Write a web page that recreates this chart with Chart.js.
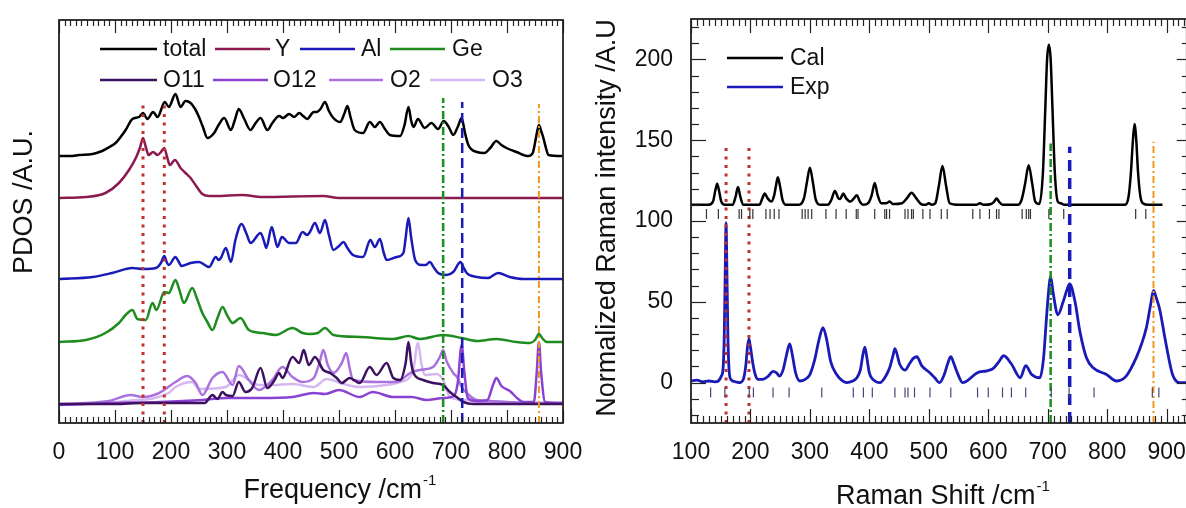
<!DOCTYPE html>
<html>
<head>
<meta charset="utf-8">
<script src="https://cdn.jsdelivr.net/npm/chart.js@4"></script>
<style>
  html, body { margin: 0; padding: 0; background: #fff; overflow: hidden; }
  #left { position: absolute; left: 0; top: 0; }
  #right { position: absolute; left: 593px; top: 0; }
</style>
</head>
<body>
<canvas id="left" width="593" height="508"></canvas>
<canvas id="right" width="600" height="508"></canvas>
<script>
// ---- left panel: PDOS curves, [frequency, offset intensity] ----
const total = [[0,267],[20,267],[36,268],[60,269],[77,272],[90,276],[101,280],[110,286],[119,293],[131,304],[143,306],[150,310],[158,304],[168,311],[176,306],[189,321],[196,316],[208,329],[217,316],[226,322],[235,320],[243,314],[250,306],[257,296],[265,285],[277,290],[285,298],[295,305],[307,293],[314,303],[321,314],[330,305],[342,293],[350,299],[360,305],[372,293],[381,300],[393,307],[400,305],[411,309],[420,306],[429,310],[436,307],[443,304],[455,311],[460,311],[467,314],[475,321],[482,312],[490,305],[502,301],[510,310],[515,317],[521,305],[528,293],[543,290],[555,301],[564,296],[573,301],[582,294],[591,288],[609,287],[617,298],[624,316],[629,302],[633,296],[641,304],[653,295],[665,300],[677,294],[687,302],[696,296],[704,288],[712,296],[719,305],[725,290],[731,278],[746,271],[760,270],[770,275],[781,282],[790,278],[799,275],[817,271],[838,267],[846,270],[850,280],[854,292],[857,298],[861,292],[865,285],[870,274],[874,268],[900,267]];
const pdosY = [[0,225],[48,226],[83,230],[107,240],[125,253],[138,266],[145,276],[150,285],[155,276],[160,268],[168,271],[176,268],[182,271],[188,275],[193,266],[198,258],[207,263],[217,255],[226,250],[235,245],[245,237],[256,229],[268,227],[280,227],[327,228],[363,226],[472,227],[500,225],[900,225]];
const pdosAl = [[0,144],[60,146],[95,150],[131,155],[150,154],[173,155],[182,160],[188,167],[193,160],[196,158],[208,166],[213,162],[219,157],[235,160],[250,161],[268,156],[280,166],[285,163],[289,165],[298,175],[307,161],[315,183],[326,199],[335,189],[342,180],[360,190],[366,182],[370,175],[380,196],[385,186],[390,176],[398,186],[411,180],[423,180],[435,191],[443,188],[448,191],[457,200],[466,190],[475,203],[482,188],[490,173],[500,177],[508,181],[515,175],[525,168],[543,166],[556,183],[564,176],[573,184],[580,170],[585,163],[603,166],[615,170],[619,185],[624,205],[629,185],[636,163],[647,158],[655,158],[662,161],[670,155],[677,150],[692,148],[704,151],[717,161],[722,156],[728,150],[746,146],[766,145],[784,150],[805,146],[829,144],[900,144]];
const pdosGe = [[0,81],[48,83],[83,90],[107,100],[119,108],[131,113],[140,104],[155,103],[167,120],[174,113],[188,131],[196,130],[208,143],[215,133],[223,120],[238,135],[246,125],[256,110],[265,101],[274,93],[283,105],[292,116],[300,108],[310,100],[324,105],[339,93],[363,90],[387,88],[417,95],[435,90],[448,89],[462,90],[475,95],[490,88],[537,86],[597,84],[624,87],[644,84],[686,88],[719,85],[746,82],[781,84],[817,81],[841,80],[850,83],[857,89],[864,84],[871,81],[900,81]];
const pdosO11 = [[0,19],[100,19],[150,20],[200,20],[260,20],[274,28],[283,24],[292,31],[298,28],[310,27],[321,41],[333,31],[345,35],[360,55],[372,35],[384,42],[393,50],[399,45],[417,66],[429,60],[437,73],[446,58],[457,66],[472,53],[484,50],[496,45],[505,40],[519,45],[537,40],[555,56],[567,48],[585,60],[597,45],[609,43],[619,60],[624,81],[629,60],[633,50],[650,43],[668,40],[686,38],[698,31],[710,26],[722,21],[740,19],[900,19]];
const pdosO12 = [[0,18],[100,20],[180,21],[256,23],[300,25],[360,25],[417,26],[455,30],[475,29],[500,33],[537,26],[560,31],[597,26],[630,26],[656,23],[686,25],[705,27],[712,40],[719,78],[724,50],[730,25],[746,22],[765,23],[775,38],[781,45],[790,37],[805,32],[820,24],[829,21],[848,21],[853,50],[857,81],[861,50],[868,21],[900,20]];
const pdosO2 = [[0,19],[89,22],[128,28],[149,26],[179,30],[208,41],[229,47],[244,40],[256,28],[274,45],[292,51],[310,38],[321,57],[339,43],[357,33],[381,43],[399,56],[417,46],[435,41],[455,45],[465,60],[472,73],[480,58],[490,50],[505,60],[513,70],[519,55],[525,43],[567,41],[603,41],[627,50],[644,53],[668,56],[680,66],[686,73],[692,62],[704,50],[712,45],[719,36],[728,30],[746,23],[769,22],[800,21],[840,20],[900,20]];
const pdosO3 = [[0,18],[120,22],[196,30],[208,36],[238,41],[250,34],[298,36],[321,48],[357,38],[381,38],[417,39],[455,36],[478,44],[508,39],[537,36],[585,38],[609,41],[625,45],[633,54],[641,80],[647,60],[653,48],[674,49],[686,43],[698,26],[722,23],[760,21],[800,20],[900,20]];
const pdosMarks = [150, 188, 686, 720, 857];

// ---- right panel: Raman spectra, [shift, intensity] ----
const cal = [[100,110],[130,110],[137,112],[141,119],[144,123],[147,119],[151,112],[157,110],[170,110],[175,115],[179,121],[183,115],[188,110],[215,110],[220,114],[224,117],[229,114],[235,112],[240,116],[243,122],[246,127],[250,121],[254,113],[260,110],[280,110],[290,114],[295,124],[300,133],[305,124],[310,113],[318,110],[330,110],[336,113],[342,118.5],[348,114],[351,113.6],[356,117],[361,114],[368,112],[374,114],[379,116],[384,112],[390,110],[398,111],[404,116],[409,123.5],[414,116],[420,111],[428,111],[434,112],[440,110.5],[455,111],[463,114],[471,117.5],[479,114],[487,110.5],[495,110],[500,111],[505,110],[511,111],[517,122],[523,134],[529,122],[535,111],[550,110],[580,110],[586,111],[592,110],[605,110.5],[610,112],[614,114],[618,112],[624,110],[650,110],[656,113],[662,123],[668,134.5],[674,123],[679,112],[686,110.5],[692,130],[696,170],[699,200],[702,209],[705,200],[708,170],[712,130],[717,112],[722,111],[728,110],[800,110],[830,110],[836,115],[840,130],[843,148],[846,160],[849,150],[852,130],[856,115],[860,111],[870,110],[893,110]];
const exp = [[100,1],[110,1.5],[120,0.5],[130,1],[140,0.5],[146,1],[151,4],[154,9],[156,30],[158,80],[159,99],[160,80],[162,30],[164,8],[167,2],[175,0.5],[182,0],[188,2],[192,10],[195,22],[197.5,27],[200,22],[204,12],[208,5],[213,2],[220,2],[230,4],[238,7],[244,6],[249,4],[255,8],[260,16],[266,24],[271,16],[276,6],[283,1],[292,2],[300,5],[308,14],[315,26],[322,34],[328,27],[335,13],[345,5],[355,1],[362,0],[372,1],[379,3],[385,8],[389,17],[392.5,22],[396,15],[400,6],[406,2],[418,0],[426,3],[434,9],[440,17],[443,21],[451,11.5],[460,7.7],[468,12],[474,15],[480,16],[488,10.5],[502,6],[510,3],[518,0],[526,5],[532,12],[537,16],[542,12],[547,7],[557,0],[562,0.5],[581,6],[598,7.3],[608,8.6],[618,13],[626,16.6],[639,11.5],[654,3],[663,10.5],[673,5],[687,3],[693,15],[697,35],[700,50],[705,65.5],[709,56],[717,42],[726,50],[732,57],[737,61],[746,50],[754,32],[765,15.5],[777,9],[799,5],[816,1],[832,4],[849,15.5],[858,24],[866,34],[873,48],[878,57],[883,52],[888,46],[899,24],[910,5],[922,0],[934,0]];
const calModes = [126,146,181,185,199,204,226,233,240,248,287,292,297,303,327,344,361,378,381,409,426,429,434,460,465,471,474,490,502,521,531,574,586,602,614,618,657,664,668,671,702,727,848,865];
const expModes = [133,157,198,205,238,265,320,373,390,405,443,460,465,476,502,537,582,600,624,639,663,706,736,778,876,887];
const ramanMarks = [159, 197.5, 705, 737, 878];
const ramanYTicks = [0, 50, 100, 150, 200];

const FONT = "'Liberation Sans', Arial, sans-serif";
Chart.defaults.font.family = FONT;
Chart.defaults.color = '#111';

const pts = (arr) => arr.map(([x, y]) => ({ x: x, y: y }));

function curve(label, data, color, order, width) {
  return { label: label, data: pts(data), borderColor: color, backgroundColor: color,
    borderWidth: width || 2.5, pointRadius: 0, showLine: true,
    cubicInterpolationMode: 'monotone', order: order };
}
function mark(x, y0, y1, color, dash, width) {
  return { label: '', data: [{ x: x, y: y0 }, { x: x, y: y1 }], borderColor: color,
    borderWidth: width, borderDash: dash, pointRadius: 0, showLine: true, order: 0 };
}
function modes(xs, y, color) {
  return { label: '', data: xs.map(x => ({ x: x, y: y })), showLine: false,
    pointStyle: 'line', pointRotation: 90, pointRadius: 5, pointBorderWidth: 1.2,
    borderColor: color, pointBorderColor: color, order: 0 };
}
// fixed axis size, no extra room reserved for overhanging labels
function fixSize(prop, n) {
  return (s) => {
    s[prop] = n;
    s.paddingLeft = 0; s.paddingRight = 0; s.paddingTop = 0; s.paddingBottom = 0;
  };
}

// frame with inward ticks on the sides that have them
const frameTicks = {
  id: 'frameTicks',
  afterDatasetsDraw(chart, args, o) {
    const ctx = chart.ctx, a = chart.chartArea, x = chart.scales.x, y = chart.scales.y;
    ctx.save();
    ctx.strokeStyle = '#222';
    ctx.lineWidth = 1.2;
    const seg = (x1, y1, x2, y2) => { ctx.beginPath(); ctx.moveTo(x1, y1); ctx.lineTo(x2, y2); ctx.stroke(); };
    for (let v = Math.ceil(x.min / 10) * 10; v <= x.max; v += 10) {
      const px = Math.round(x.getPixelForValue(v)) + 0.5;
      const len = v % 100 === 0 ? o.xMajor : o.xMinor;
      seg(px, a.top, px, a.top + len);
      seg(px, a.bottom, px, a.bottom - len);
    }
    if (o.yTicks) {
      for (let v = Math.ceil(y.min / 10) * 10; v <= y.max; v += 10) {
        const py = Math.round(y.getPixelForValue(v)) + 0.5;
        const major = v % 50 === 0;
        seg(a.left, py, a.left + (major ? 15 : 8), py);
        seg(a.right, py, a.right - (major ? 10 : 5), py);
      }
    }
    ctx.lineWidth = 1.8;
    ctx.strokeRect(a.left, a.top, a.right - a.left, a.bottom - a.top);
    ctx.restore();
  }
};

function drawTitle(ctx, t) {
  const big = '27px ' + FONT, small = '15px ' + FONT;
  ctx.save();
  ctx.translate(t.x, t.y);
  if (t.rot) ctx.rotate(t.rot);
  ctx.font = big;
  const w1 = ctx.measureText(t.text).width;
  ctx.font = small;
  const w2 = t.sup ? ctx.measureText(t.sup).width + 1 : 0;
  const start = -(w1 + w2) / 2;
  ctx.fillStyle = '#111';
  ctx.textBaseline = 'middle';
  ctx.textAlign = 'left';
  ctx.font = big;
  ctx.fillText(t.text, start, 0);
  if (t.sup) { ctx.font = small; ctx.fillText(t.sup, start + w1 + 1, -10); }
  ctx.restore();
}

// legend lines + axis titles
const extras = {
  id: 'extras',
  afterDraw(chart, args, o) {
    const ctx = chart.ctx;
    ctx.save();
    ctx.font = '23px ' + FONT;
    ctx.textBaseline = 'middle';
    ctx.textAlign = 'left';
    (o.legend || []).forEach(it => {
      const ds = chart.data.datasets[it.ds];
      ctx.strokeStyle = ds.borderColor;
      ctx.lineWidth = 2.5;
      ctx.beginPath(); ctx.moveTo(it.x1, it.y); ctx.lineTo(it.x2, it.y); ctx.stroke();
      ctx.fillStyle = '#111';
      ctx.fillText(ds.label, it.tx, it.y + 1);
    });
    ctx.restore();
    (o.titles || []).forEach(t => drawTitle(ctx, t));
  }
};

const tickFont = { size: 23 };

// ---------- left chart ----------
const leftSets = [
  curve('total', total, '#000000', 1),
  curve('Y', pdosY, '#8c1a50', 1),
  curve('Al', pdosAl, '#1a1ab8', 1),
  curve('Ge', pdosGe, '#1e8c1e', 1),
  curve('O11', pdosO11, '#3d1060', 1),
  curve('O12', pdosO12, '#8a42d2', 2),
  curve('O2', pdosO2, '#aa72de', 2),
  curve('O3', pdosO3, '#d6b8f0', 3),
  mark(pdosMarks[0], 0, 320, '#c0302e', [3, 5.5], 3),
  mark(pdosMarks[1], 0, 320, '#c0302e', [3, 5.5], 3),
  mark(pdosMarks[2], 0, 325, '#1e8c1e', [8, 3, 2, 3], 2.5),
  mark(pdosMarks[3], 0, 321, '#1a1ab8', [10, 5], 2.5),
  mark(pdosMarks[4], 0, 319, '#f0961e', [7, 3, 2, 3], 2)
];

new Chart(document.getElementById('left'), {
  type: 'scatter',
  data: { datasets: leftSets },
  plugins: [frameTicks, extras],
  options: {
    responsive: false, animation: false, events: [],
    layout: { padding: { top: 20, right: 30, left: 0, bottom: 0 } },
    scales: {
      x: { type: 'linear', min: 0, max: 900,
        ticks: { stepSize: 100, font: tickFont, padding: 16, maxRotation: 0, autoSkip: false },
        grid: { display: false, drawTicks: false }, border: { display: false },
        afterFit: fixSize('height', 85) },
      y: { type: 'linear', min: 0, max: 403,
        ticks: { display: false }, grid: { display: false, drawTicks: false }, border: { display: false },
        afterFit: fixSize('width', 59) }
    },
    plugins: {
      legend: { display: false }, tooltip: { enabled: false },
      frameTicks: { xMajor: 13, xMinor: 6, yTicks: false },
      extras: {
        legend: [
          { ds: 0, x1: 100, x2: 157, tx: 163, y: 49 },
          { ds: 1, x1: 215, x2: 270, tx: 275, y: 49 },
          { ds: 2, x1: 300, x2: 355, tx: 361, y: 49 },
          { ds: 3, x1: 390, x2: 445, tx: 452, y: 49 },
          { ds: 4, x1: 100, x2: 157, tx: 163, y: 80 },
          { ds: 5, x1: 213, x2: 268, tx: 273, y: 80 },
          { ds: 6, x1: 329, x2: 383, tx: 390, y: 80 },
          { ds: 7, x1: 430, x2: 485, tx: 492, y: 80 }
        ],
        titles: [
          { text: 'Frequency /cm', sup: '-1', x: 340, y: 491 },
          { text: 'PDOS /A.U.', x: 25, y: 202, rot: -Math.PI / 2 }
        ]
      }
    }
  }
});

// ---------- right chart ----------
const rightSets = [
  curve('Cal', cal, '#000000', 1),
  curve('Exp', exp, '#1a1ab8', 1, 2.8),
  modes(calModes, 104.3, '#333333'),
  modes(expModes, -6.2, '#46467a'),
  mark(ramanMarks[0], -25, 148, '#c0302e', [3, 5.5], 3),
  mark(ramanMarks[1], -25, 148, '#c0302e', [3, 5.5], 3),
  mark(ramanMarks[2], -25, 148, '#1e8c1e', [8, 3, 2, 3], 2.5),
  mark(ramanMarks[3], -25, 146, '#1a1ab8', [11, 7], 3.5),
  mark(ramanMarks[4], -25, 149, '#f0961e', [7, 3, 2, 3], 2)
];

new Chart(document.getElementById('right'), {
  type: 'scatter',
  data: { datasets: rightSets },
  plugins: [frameTicks, extras],
  options: {
    responsive: false, animation: false, events: [],
    layout: { padding: { top: 19, right: 6, left: 0, bottom: 0 } },
    scales: {
      x: { type: 'linear', min: 100, max: 934,
        ticks: { stepSize: 100, includeBounds: false, font: tickFont, padding: 16, maxRotation: 0, autoSkip: false },
        grid: { display: false, drawTicks: false }, border: { display: false },
        afterFit: fixSize('height', 85) },
      y: { type: 'linear', min: -25, max: 225,
        afterBuildTicks: (s) => { s.ticks = ramanYTicks.map(v => ({ value: v })); },
        ticks: { font: tickFont, padding: 18 },
        grid: { display: false, drawTicks: false }, border: { display: false },
        afterFit: fixSize('width', 98) }
    },
    plugins: {
      legend: { display: false }, tooltip: { enabled: false },
      frameTicks: { xMajor: 14, xMinor: 7, yTicks: true },
      extras: {
        legend: [
          { ds: 0, x1: 134, x2: 190, tx: 197, y: 58 },
          { ds: 1, x1: 134, x2: 190, tx: 197, y: 87 }
        ],
        titles: [
          { text: 'Raman Shift /cm', sup: '-1', x: 350, y: 497 },
          { text: 'Normalized Raman intensity /A.U', x: 15, y: 218, rot: -Math.PI / 2 }
        ]
      }
    }
  }
});
</script>
</body>
</html>
